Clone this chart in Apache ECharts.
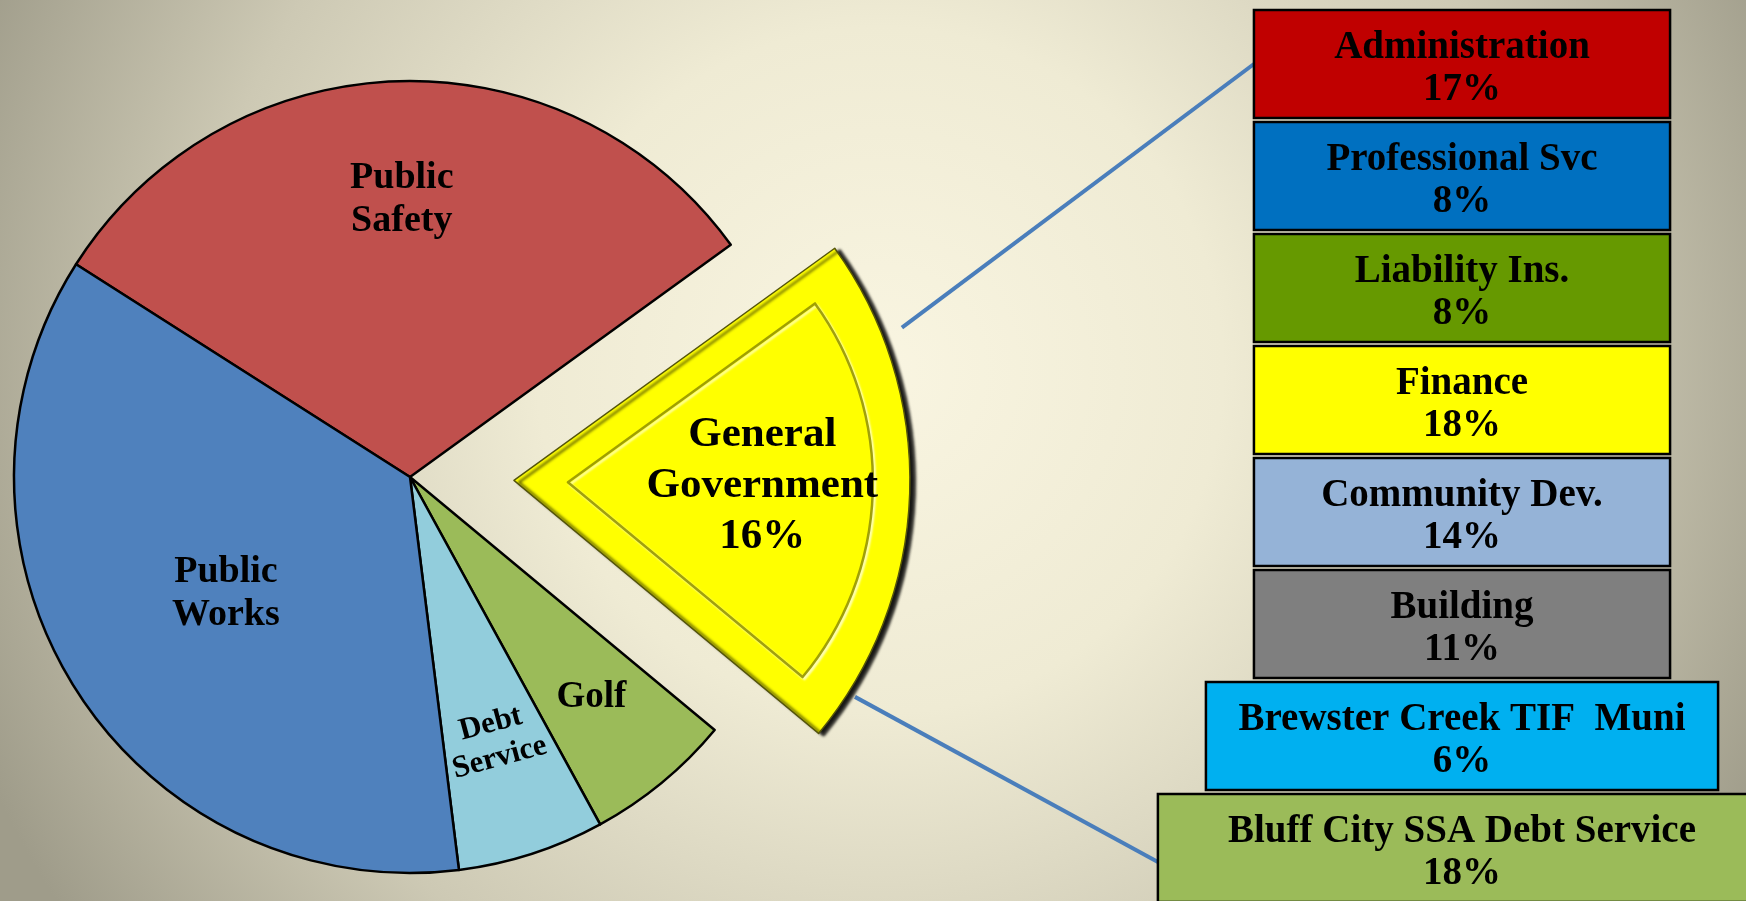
<!DOCTYPE html>
<html>
<head>
<meta charset="utf-8">
<title>General Fund Expenditures</title>
<script src="https://cdn.jsdelivr.net/npm/echarts@6/dist/echarts.min.js"></script>
<style>
  html, body { margin: 0; padding: 0; }
  #chart { width: 1746px; height: 901px; }
</style>
</head>
<body>
<div id="chart"></div>
<script>
// pie slices, clockwise starting at the left edge of Public Safety
const pieCategories = ['Public Safety', 'General Government', 'Golf', 'Debt Service', 'Public Works'];
const pieValues = [31, 21, 6, 6, 36];
const generalGovPct = 16; // the figure printed on the exploded slice

// General Government breakdown, top to bottom
const subCategories = [
  'Administration',
  'Professional Svc',
  'Liability Ins.',
  'Finance',
  'Community Dev.',
  'Building',
  'Brewster Creek TIF  Muni',
  'Bluff City SSA Debt Service'
];
const subPercent = [17, 8, 8, 18, 14, 11, 6, 18];

const pieColors = ['#c0504d', '#ffff00', '#9bbb59', '#92cddc', '#4f81bd'];
const boxColors = ['#c00000', '#0070c0', '#669900', '#ffff00', '#95b3d7', '#7f7f7f', '#00b0f0', '#9bbb59'];

const CENTER = [410, 477];
const R = 396;
const START = 147.5;
const EXPLODE = 104;
const FONT = 'Liberation Serif';

// slice angles (deg), used for label placement and the connector lines
const total = pieValues.reduce((a, b) => a + b, 0);
const sliceStart = [], sliceEnd = [], sliceMid = [];
let acc = START;
pieValues.forEach((v) => {
  const span = (360 * v) / total;
  sliceStart.push(acc);
  sliceEnd.push(acc - span);
  sliceMid.push(acc - span / 2);
  acc -= span;
});

// how far out along the radius each label sits
const labelFrac = [0.7, 0.62, 0.72, 0.7, 0.55];
const gg = pieCategories.indexOf('General Government');

const polar = (origin, deg, dist) => {
  const a = (deg * Math.PI) / 180;
  return [origin[0] + dist * Math.cos(a), origin[1] - dist * Math.sin(a)];
};
const apex = polar(CENTER, sliceMid[gg], EXPLODE);

const chart = echarts.init(document.getElementById('chart'));

const pieData = pieCategories.map((name, i) => {
  const item = {
    name: name,
    value: pieValues[i],
    selected: i === gg,
    itemStyle: { color: pieColors[i], borderColor: '#000', borderWidth: 2.5 },
    label: { fontSize: 38, lineHeight: 43 }
  };
  if (i === gg) {
    item.itemStyle = {
      color: '#ffff00',
      borderColor: '#55550a',
      borderWidth: 1.5,
      shadowColor: 'rgba(0,0,0,0.9)',
      shadowBlur: 3,
      shadowOffsetX: 5,
      shadowOffsetY: 2
    };
    item.label = { fontSize: 43, lineHeight: 51 };
  }
  if (name === 'Debt Service') {
    item.label = { fontSize: 31, lineHeight: 35, rotate: 15 };
  }
  if (name === 'Golf') {
    item.label = { fontSize: 37 };
  }
  return item;
});

// inner bevel of the exploded slice
const bevelData = pieCategories.map((name, i) => ({
  name: name,
  value: pieValues[i],
  selected: i === gg,
  itemStyle: i === gg
    ? {
        color: '#ffff00',
        borderColor: 'rgba(150,150,0,0.9)',
        borderWidth: 2.5,
        shadowColor: 'rgba(255,255,190,0.95)',
        shadowBlur: 2,
        shadowOffsetX: 2,
        shadowOffsetY: 2
      }
    : { color: 'rgba(0,0,0,0)', borderWidth: 0 }
}));

// the breakdown column: centre at 0, top rows one unit each side
const X_HALF = 1.365;

const option = {
  backgroundColor: new echarts.graphic.RadialGradient(880, 370, 980, [
    { offset: 0, color: '#f9f5e1' },
    { offset: 0.35, color: '#efebd4' },
    { offset: 0.7, color: '#cdc9b4' },
    { offset: 1, color: '#9f9c8a' }
  ], true),
  animation: false,
  grid: { left: 1178, right: 0, top: 8, height: 896, outerBoundsMode: 'none', containLabel: false },
  xAxis: { type: 'value', min: -X_HALF, max: X_HALF, show: false },
  yAxis: { type: 'category', data: subCategories, inverse: true, show: false },
  series: [
    {
      type: 'pie',
      center: CENTER,
      radius: [0, R],
      startAngle: START,
      clockwise: true,
      selectedMode: 'single',
      selectedOffset: EXPLODE,
      avoidLabelOverlap: false,
      emphasis: { disabled: true },
      label: {
        show: true,
        position: 'inside',
        color: '#000',
        fontFamily: FONT,
        fontWeight: 'bold',
        formatter: (p) =>
          p.name === 'General Government'
            ? 'General\nGovernment\n' + generalGovPct + '%'
            : p.name.replace(' ', '\n')
      },
      labelLine: { show: false },
      labelLayout: (params) => {
        const i = params.dataIndex;
        if (i === gg) {
          // the selected slice keeps its own label anchor at half radius, so shift from there
          const d = (labelFrac[i] - 0.5) * R;
          const a = (sliceMid[i] * Math.PI) / 180;
          return { dx: d * Math.cos(a), dy: -d * Math.sin(a) - 3 };
        }
        const p = polar(CENTER, sliceMid[i], labelFrac[i] * R);
        return { x: p[0], y: p[1] };
      },
      data: pieData,
      z: 2
    },
    {
      type: 'pie',
      center: CENTER,
      radius: [0, 305],
      startAngle: START,
      clockwise: true,
      selectedMode: 'single',
      selectedOffset: EXPLODE + 54,
      silent: true,
      emphasis: { disabled: true },
      label: { show: false },
      labelLine: { show: false },
      data: bevelData,
      z: 2
    },
    {
      type: 'custom',
      coordinateSystem: 'cartesian2d',
      encode: { x: 0, y: 1 },
      clip: false,
      data: subCategories.map((name, i) => [0, i, subPercent[i]]),
      z: 3,
      renderItem: (params, api) => {
        const idx = params.dataIndex;
        // the last two rows step out wider, like a pedestal
        const half = 1 + 0.2308 * Math.max(0, idx - 5);
        const l = api.coord([-half, idx]);
        const r = api.coord([half, idx]);
        const h = api.size([0, 1])[1] * 0.965;
        return {
          type: 'rect',
          shape: { x: l[0], y: l[1] - h / 2, width: r[0] - l[0], height: h },
          style: { fill: boxColors[idx], stroke: '#000', lineWidth: 2.5 },
          textContent: {
            style: {
              text: subCategories[idx] + '\n' + api.value(2) + '%',
              fill: '#000',
              fontFamily: FONT,
              fontWeight: 'bold',
              fontSize: 39,
              lineHeight: 42,
              align: 'center'
            }
          },
          textConfig: { position: 'inside', offset: [0, 5] }
        };
      }
    }
  ]
};

chart.setOption(option);

// connector lines from the exploded slice to the breakdown column
const s1 = polar(apex, sliceStart[gg] - 14.4, 1.053 * R);
const s2 = polar(apex, sliceEnd[gg] + 7.3, 1.02 * R);
const e1 = chart.convertToPixel({ gridIndex: 0 }, [-1, 0]);
const e2 = chart.convertToPixel({ gridIndex: 0 }, [-1.4615, subCategories.length - 1]);

chart.setOption({
  graphic: [
    {
      type: 'line',
      z: 1,
      shape: { x1: s1[0], y1: s1[1], x2: e1[0], y2: e1[1] },
      style: { stroke: '#4a7ebb', lineWidth: 4 }
    },
    {
      type: 'line',
      z: 1,
      shape: { x1: s2[0], y1: s2[1], x2: e2[0], y2: e2[1] + 14 },
      style: { stroke: '#4a7ebb', lineWidth: 4 }
    }
  ]
});
</script>
</body>
</html>
